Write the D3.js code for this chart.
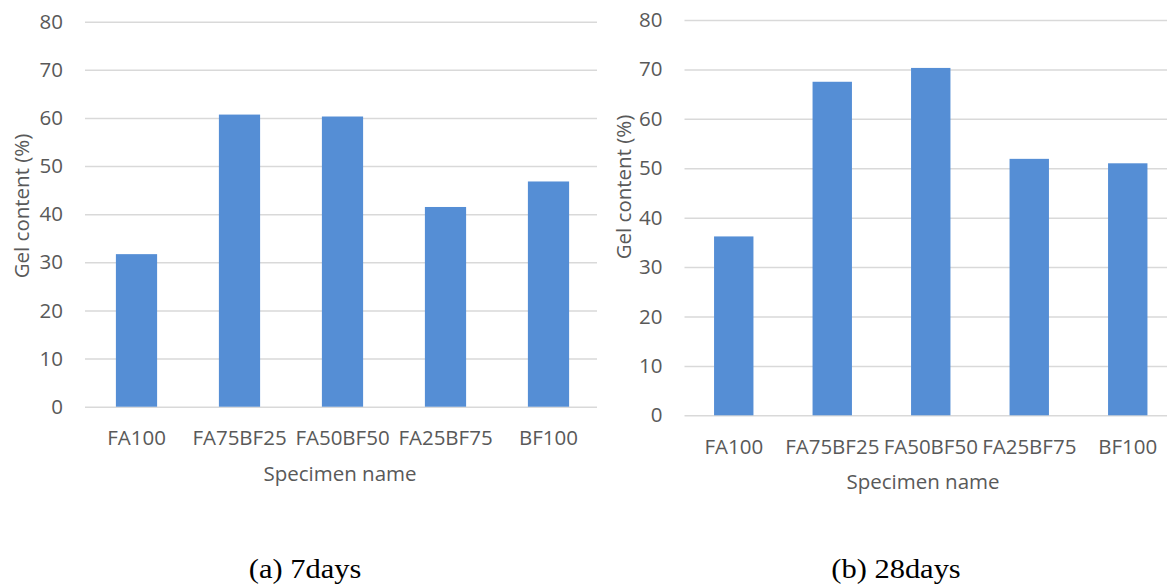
<!DOCTYPE html>
<html>
<head>
<meta charset="utf-8">
<script src="https://cdn.jsdelivr.net/npm/d3@7"></script>
<style>
  body { margin: 0; background: #fff; }
  text { font-family: "Open Sans", sans-serif; fill: #595959; }
  text.caption { font-family: "Times New Roman", "Liberation Serif", Tinos, serif; fill: #000; }
</style>
</head>
<body>
<svg id="chart" width="1167" height="587"></svg>
<script>
  var categories = ["FA100", "FA75BF25", "FA50BF50", "FA25BF75", "BF100"];
  var gel7days = [31.7, 60.7, 60.3, 41.5, 46.8];
  var gel28days = [36.2, 67.5, 70.3, 51.9, 51.0];
  var yTicks = [0, 10, 20, 30, 40, 50, 60, 70, 80];
  var yTitle = "Gel content (%)",
      xTitle = "Specimen name",
      captions = ["(a) 7days", "(b) 28days"];

  var barColor = "#558ed5",
      gridColor = "#d9d9d9";

  var svg = d3.select("#chart");

  // layout of each panel (pixels)
  var panels = [
    {values: gel7days, caption: captions[0], top: 21.7, bottom: 406.7,
     band: [85, 600], gridEnd: 597, yTitle: [22, 206], xTitleX: 340, captionX: 305},
    {values: gel28days, caption: captions[1], top: 20, bottom: 415.3,
     band: [684.5, 1177], gridEnd: 1167, yTitle: [624, 187], xTitleX: 923, captionX: 896}
  ];

  panels.forEach(function(p) {
    var g = svg.append("g");

    var x = d3.scaleBand()
        .domain(categories)
        .range(p.band)
        .paddingInner(0.6)
        .paddingOuter(0.3);

    var y = d3.scaleLinear()
        .domain([0, 80])
        .range([p.bottom, p.top]);

    var gridW = p.gridEnd - p.band[0];

    var yAxis = d3.axisLeft(y)
        .tickValues(yTicks)
        .tickSize(-gridW)
        .tickPadding(22);

    var ya = g.append("g")
        .attr("transform", "translate(" + p.band[0] + ",0)")
        .call(yAxis);
    ya.select(".domain").remove();
    ya.selectAll(".tick line")
        .attr("stroke", gridColor)
        .attr("stroke-width", 1.5);
    ya.selectAll(".tick text")
        .attr("font-size", 20.5)
        .attr("fill", "#595959");

    g.selectAll("rect.bar")
        .data(p.values)
        .enter().append("rect")
        .attr("class", "bar")
        .attr("x", function(d, i) { return x(categories[i]); })
        .attr("width", x.bandwidth())
        .attr("y", function(d) { return y(d); })
        .attr("height", function(d) { return y(0) - y(d); })
        .attr("fill", barColor);

    var xAxis = d3.axisBottom(x)
        .tickSize(0)
        .tickPadding(0);

    var xa = g.append("g")
        .attr("transform", "translate(0," + p.bottom + ")")
        .call(xAxis);
    xa.select(".domain").remove();
    xa.selectAll(".tick text")
        .attr("font-size", 20.5)
        .attr("fill", "#595959")
        .attr("dy", null)
        .attr("y", 38.5);

    g.append("text")
        .attr("transform", "translate(" + p.yTitle[0] + "," + p.yTitle[1] + ") rotate(-90)")
        .attr("text-anchor", "middle")
        .attr("dy", "0.35em")
        .attr("font-size", 20.5)
        .text(yTitle);

    g.append("text")
        .attr("x", p.xTitleX)
        .attr("y", p.bottom + 74)
        .attr("text-anchor", "middle")
        .attr("font-size", 20.5)
        .text(xTitle);

    // caption under each panel (source figure is slightly stretched sideways)
    svg.append("g")
        .attr("transform", "translate(" + p.captionX + ",578) scale(1.15,1)")
        .append("text")
        .attr("class", "caption")
        .attr("text-anchor", "middle")
        .attr("font-size", 26.5)
        .text(p.caption);
  });
</script>
</body>
</html>
